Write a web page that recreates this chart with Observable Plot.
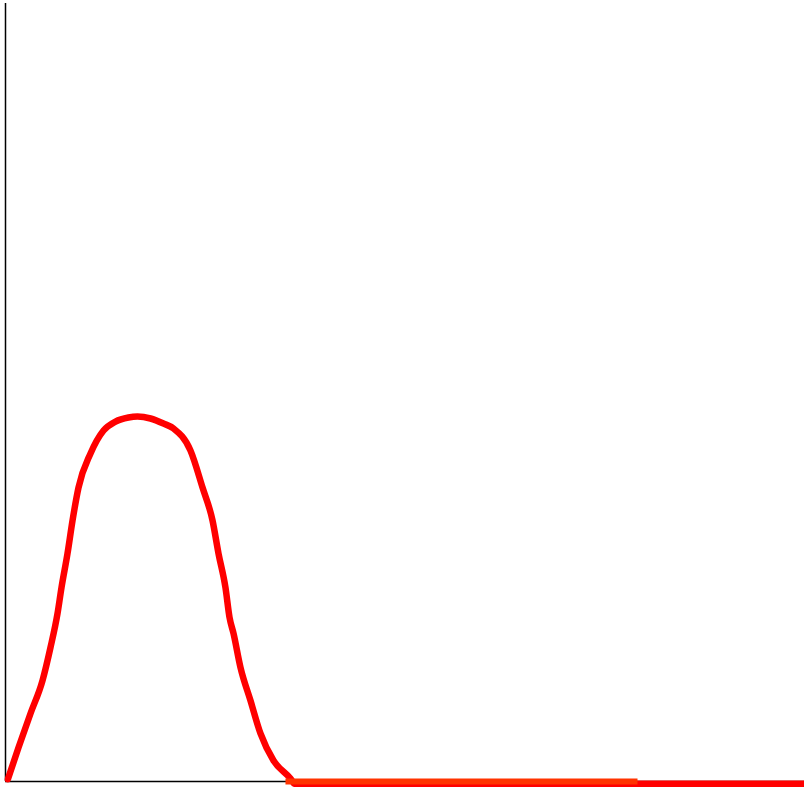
<!DOCTYPE html>
<html>
<head>
<meta charset="utf-8">
<script src="https://cdn.jsdelivr.net/npm/d3@7"></script>
<script src="https://cdn.jsdelivr.net/npm/@observablehq/plot@0.6"></script>
<style>
  html, body { margin: 0; padding: 0; background: #fff; }
  #chart svg { display: block; }
</style>
</head>
<body>
<div id="chart"></div>
<script>
// Curve values (x in 0..10, y in 0..100)
const curveX = [0.03, 0.163, 0.313, 0.463, 0.563, 0.651, 0.701, 0.776, 0.839, 0.914, 1.064, 1.227, 1.377, 1.539, 1.652, 1.815, 1.977, 2.103, 2.315, 2.466, 2.591, 2.666, 2.753, 2.804, 2.854, 2.941, 3.066, 3.191, 3.354, 3.567, 3.62, 10.0];
const curveY = [0.3, 4.35, 8.71, 12.93, 17.16, 21.51, 24.84, 29.19, 33.42, 37.64, 42.0, 44.94, 46.09, 46.61, 46.73, 46.48, 45.84, 45.2, 42.38, 37.64, 33.42, 29.19, 24.84, 21.0, 18.95, 14.6, 10.37, 6.15, 2.69, 0.38, -0.3, -0.3];
// Flat segment along the baseline
const segX = [3.504, 7.91];
const segY = [0, 0];

const curve = curveX.map((x, i) => ({x, y: curveY[i]}));
const seg = segX.map((x, i) => ({x, y: segY[i]}));

const chart = Plot.plot({
  width: 804,
  height: 787,
  marginLeft: 5,
  marginRight: 0,
  marginTop: 0,
  marginBottom: 6,
  x: {domain: [0, 10], axis: null},
  y: {domain: [0, 100], axis: null},
  marks: [
    Plot.ruleX([0], {y1: 0, y2: 99.6, stroke: "#000", strokeWidth: 1.5}),
    Plot.ruleY([0], {x1: 0, x2: 10, stroke: "#000", strokeWidth: 1.5}),
    Plot.line(curve, {x: "x", y: "y", curve: "monotone-x", stroke: "#ff0000", strokeWidth: 6.5, strokeLinejoin: "round", strokeLinecap: "round"}),
    Plot.line(seg, {x: "x", y: "y", stroke: "#ff3300", strokeWidth: 6, strokeLinecap: "butt"})
  ]
});
document.getElementById("chart").appendChild(chart);
</script>
</body>
</html>
